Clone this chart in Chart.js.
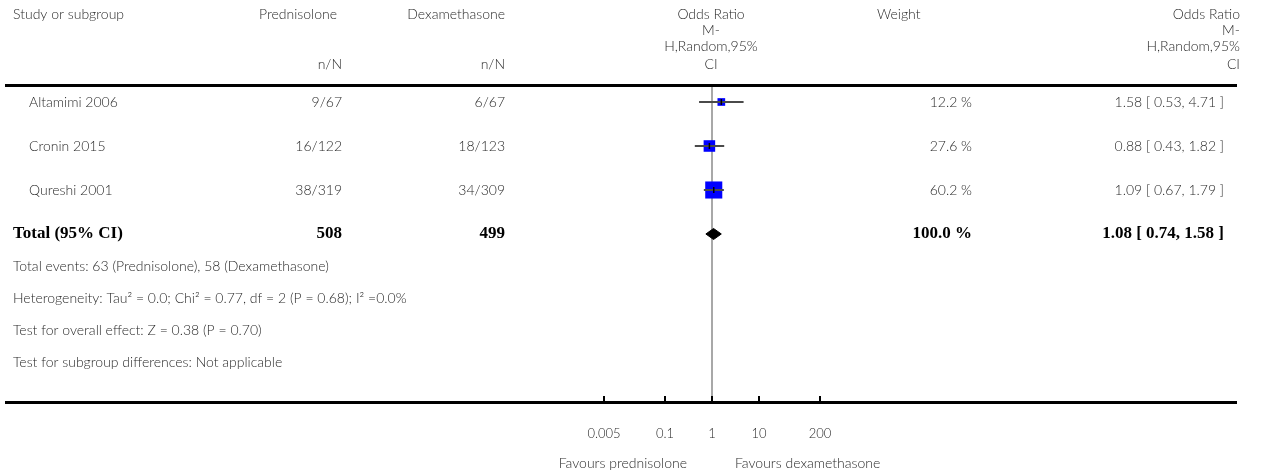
<!DOCTYPE html>
<html>
<head>
<meta charset="utf-8">
<script src="https://cdn.jsdelivr.net/npm/chart.js@4.4.0/dist/chart.umd.min.js"></script>
<style>
  html, body { margin: 0; padding: 0; background: #fff; }
  #wrap { width: 1268px; height: 473px; }
</style>
</head>
<body>
<div id="wrap"><canvas id="forest" width="1268" height="473"></canvas></div>
<script>
// Individual studies
const studies = ['Altamimi 2006', 'Cronin 2015', 'Qureshi 2001'];
const predEvents = ['9/67', '16/122', '38/319'];
const dexaEvents = ['6/67', '18/123', '34/309'];
const weights = [12.2, 27.6, 60.2];
const oddsRatio = [1.58, 0.88, 1.09];
const ciLow = [0.53, 0.43, 0.67];
const ciHigh = [4.71, 1.82, 1.79];

// Pooled estimate
const totalPred = 508;
const totalDexa = 499;
const totalWeight = 100.0;
const totalOR = 1.08;
const totalLow = 0.74;
const totalHigh = 1.58;

const axisTicks = [0.005, 0.1, 1, 10, 200];
const footnotes = [
  'Total events: 63 (Prednisolone), 58 (Dexamethasone)',
  'Heterogeneity: Tau\u00b2 = 0.0; Chi\u00b2 = 0.77, df = 2 (P = 0.68); I\u00b2 =0.0%',
  'Test for overall effect: Z = 0.38 (P = 0.70)',
  'Test for subgroup differences: Not applicable'
];

const SANS = 'Lato, "Open Sans", sans-serif';
const SERIF = '"Liberation Serif", "DejaVu Serif", serif';
const TXT = '#2a2a2a';
const totalRow = studies.length;

const fmt = v => v.toFixed(2);
const ciText = (or, lo, hi) => fmt(or) + ' [ ' + fmt(lo) + ', ' + fmt(hi) + ' ]';

// one short line per study for the confidence interval
const ciSets = studies.map((s, i) => ({
  type: 'line',
  label: s,
  data: [{ x: ciLow[i], y: i }, { x: ciHigh[i], y: i }],
  borderColor: '#4a4a4a',
  borderWidth: 2,
  pointRadius: 0,
  fill: false,
  order: 1
}));

const DIAMOND_H = 0.125;

const datasets = [
  {
    type: 'scatter',
    label: 'point',
    data: studies.map((s, i) => ({ x: oddsRatio[i], y: i })),
    pointStyle: 'line',
    rotation: 90,
    pointRadius: 3,
    borderColor: '#000',
    borderWidth: 1.5,
    order: 0
  },
  ...ciSets,
  {
    type: 'scatter',
    label: 'weight',
    data: studies.map((s, i) => ({ x: oddsRatio[i], y: i })),
    pointStyle: 'rect',
    // square side grows with the square root of the weight
    pointRadius: weights.map(w => 2.2 * Math.sqrt(w) / Math.SQRT2),
    backgroundColor: '#0000ff',
    borderWidth: 0,
    order: 2
  },
  {
    type: 'line',
    label: 'total-top',
    data: [
      { x: totalLow, y: totalRow },
      { x: totalOR, y: totalRow - DIAMOND_H },
      { x: totalHigh, y: totalRow }
    ],
    borderColor: '#000',
    borderWidth: 1,
    backgroundColor: '#000',
    pointRadius: 0,
    tension: 0,
    fill: '+1',
    order: 3
  },
  {
    type: 'line',
    label: 'total-bottom',
    data: [
      { x: totalLow, y: totalRow },
      { x: totalOR, y: totalRow + DIAMOND_H },
      { x: totalHigh, y: totalRow }
    ],
    borderColor: '#000',
    borderWidth: 1,
    pointRadius: 0,
    tension: 0,
    fill: false,
    order: 3
  }
];

function text(ctx, str, x, y, align, font, color) {
  ctx.font = font;
  ctx.fillStyle = color || TXT;
  ctx.textAlign = align;
  ctx.textBaseline = 'middle';
  ctx.fillText(str, x, y);
}

// vertical line of no effect, behind the markers
const noEffectLine = {
  id: 'noEffectLine',
  beforeDatasetsDraw(chart) {
    const { ctx, scales } = chart;
    const x = Math.round(scales.x.getPixelForValue(1));
    ctx.save();
    ctx.strokeStyle = '#a8a8a8';
    ctx.lineWidth = 2;
    ctx.beginPath();
    ctx.moveTo(x, 87);
    ctx.lineTo(x, 402);
    ctx.stroke();
    ctx.restore();
  }
};

// table columns, rules and axis line
const forestTable = {
  id: 'forestTable',
  afterDraw(chart) {
    const { ctx, scales } = chart;
    const reg = '300 14px ' + SANS;
    const bold = 'bold 17px ' + SERIF;
    const rowPx = i => scales.y.getPixelForValue(i);
    ctx.save();

    // header
    text(ctx, 'Study or subgroup', 13, 14, 'left', reg);
    text(ctx, 'Prednisolone', 337, 14, 'right', reg);
    text(ctx, 'Dexamethasone', 505, 14, 'right', reg);
    text(ctx, 'n/N', 342, 64, 'right', reg);
    text(ctx, 'n/N', 505, 64, 'right', reg);
    const orHead = ['Odds Ratio', 'M-', 'H,Random,95%', 'CI'];
    const headY = [14, 30, 46, 64];
    orHead.forEach((t, k) => text(ctx, t, 711, headY[k], 'center', reg));
    text(ctx, 'Weight', 877, 14, 'left', reg);
    orHead.forEach((t, k) => text(ctx, t, 1240, headY[k], 'right', reg));

    ctx.fillStyle = '#000';
    ctx.fillRect(5, 84, 1232, 3);

    // studies
    studies.forEach((s, i) => {
      const y = rowPx(i);
      text(ctx, s, 29, y, 'left', reg);
      text(ctx, predEvents[i], 342, y, 'right', reg);
      text(ctx, dexaEvents[i], 505, y, 'right', reg);
      text(ctx, weights[i].toFixed(1) + ' %', 972, y, 'right', reg);
      text(ctx, ciText(oddsRatio[i], ciLow[i], ciHigh[i]), 1224, y, 'right', reg);
    });

    // pooled row
    const ty = rowPx(totalRow);
    text(ctx, 'Total (95% CI)', 13, ty, 'left', bold, '#000');
    text(ctx, String(totalPred), 342, ty, 'right', bold, '#000');
    text(ctx, String(totalDexa), 505, ty, 'right', bold, '#000');
    text(ctx, totalWeight.toFixed(1) + ' %', 972, ty, 'right', bold, '#000');
    text(ctx, ciText(totalOR, totalLow, totalHigh), 1224, ty, 'right', bold, '#000');

    footnotes.forEach((f, k) => text(ctx, f, 13, 266 + 32 * k, 'left', reg));

    // bottom axis with upward ticks
    ctx.fillStyle = '#000';
    ctx.fillRect(5, 401, 1232, 3);
    axisTicks.forEach(v => {
      const x = Math.round(scales.x.getPixelForValue(v));
      ctx.fillRect(x - 1, 396, 2, 6);
    });

    const x1 = scales.x.getPixelForValue(1);
    text(ctx, 'Favours prednisolone', x1 - 25, 463, 'right', reg);
    text(ctx, 'Favours dexamethasone', x1 + 23, 463, 'left', reg);
    ctx.restore();
  }
};

new Chart(document.getElementById('forest'), {
  type: 'scatter',
  data: { datasets },
  options: {
    responsive: false,
    animation: false,
    layout: { padding: { left: 604, right: 448, top: 88, bottom: 0 } },
    plugins: {
      legend: { display: false },
      tooltip: { enabled: false },
      filler: { propagate: false }
    },
    scales: {
      x: {
        type: 'logarithmic',
        position: 'bottom',
        min: 0.005,
        max: 200,
        grid: { display: false },
        border: { display: false },
        afterBuildTicks: scale => {
          scale.ticks = axisTicks.map(v => ({ value: v }));
        },
        afterFit: scale => { scale.height = 71; },
        ticks: {
          autoSkip: false,
          maxRotation: 0,
          padding: 16,
          color: TXT,
          font: { family: SANS, size: 13, weight: 300 },
          callback: v => String(v)
        }
      },
      y: {
        type: 'linear',
        display: false,
        reverse: true,
        min: -0.318,
        max: 6.818
      }
    }
  },
  plugins: [noEffectLine, forestTable]
});
</script>
</body>
</html>
